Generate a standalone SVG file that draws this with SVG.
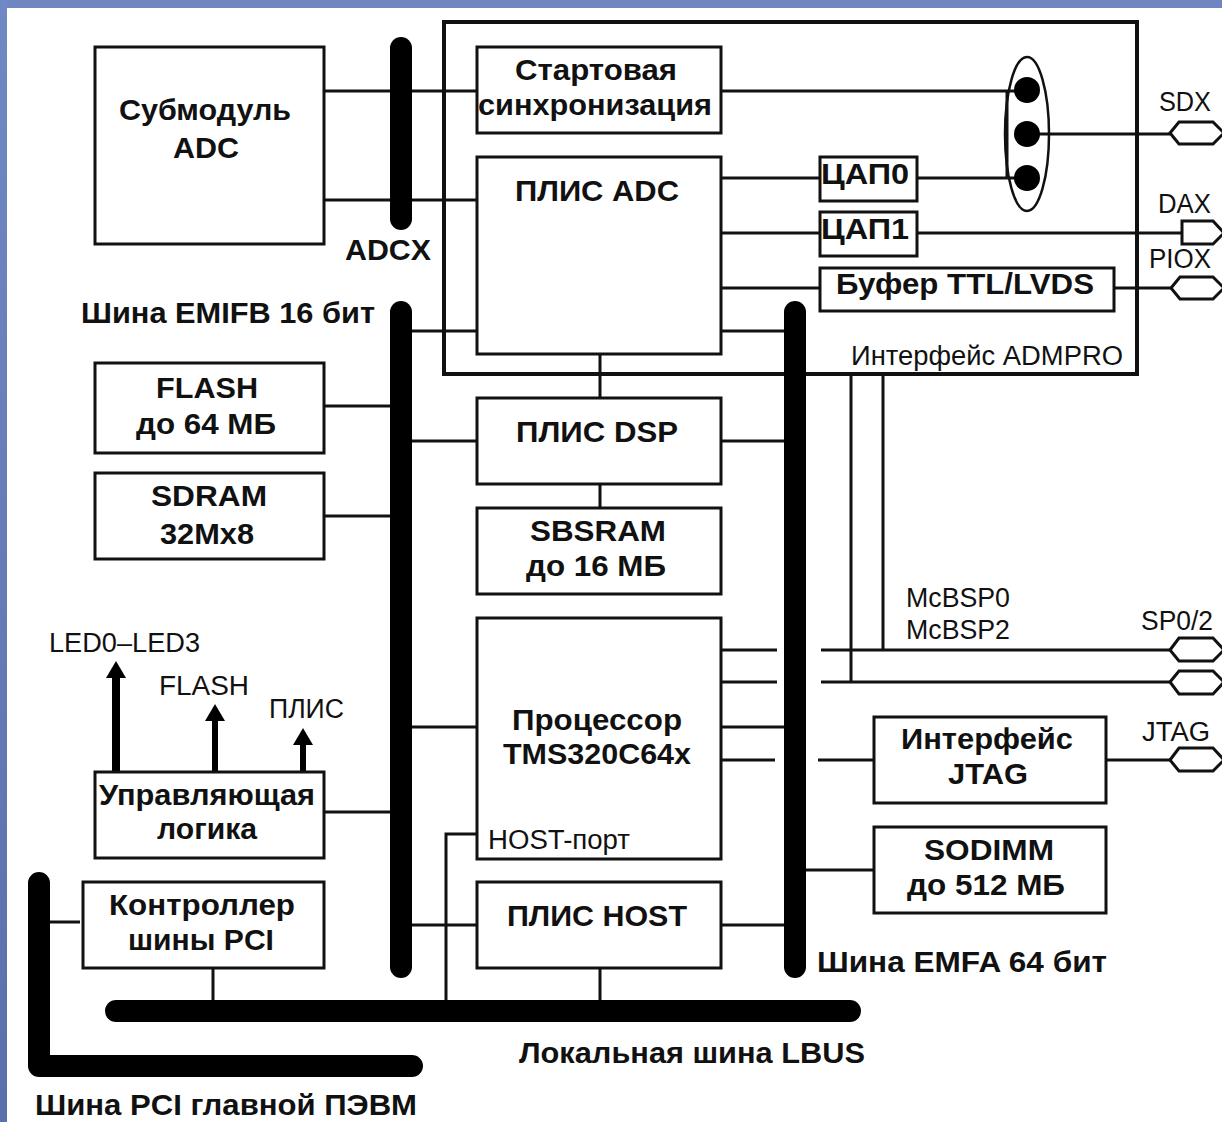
<svg xmlns="http://www.w3.org/2000/svg" width="1222" height="1122" viewBox="0 0 1222 1122">
<style>
text{font-family:"Liberation Sans",Arial,sans-serif;fill:#111}
.b{font-weight:bold;font-size:30px}
.r{font-size:27px}
.n{fill:#fff;stroke:#111;stroke-width:3}
.l{fill:none;stroke:#111;stroke-width:3}
.bus{fill:none;stroke:#000;stroke-width:22;stroke-linecap:round}
.a{fill:none;stroke:#000;stroke-width:6}
.p{fill:#fff;stroke:#111;stroke-width:3}
</style>
<defs>
<linearGradient id="bg" x1="0" y1="0" x2="0" y2="1"><stop offset="0" stop-color="#7088c4"/><stop offset="1" stop-color="#5a70ac"/></linearGradient>
<marker id="ah" viewBox="0 0 17 20" refX="1" refY="10" markerUnits="userSpaceOnUse" markerWidth="17" markerHeight="20" orient="auto"><path d="M0 0L17 10L0 20Z" fill="#000"/></marker>
</defs>
<rect width="1222" height="1122" fill="#fff"/>
<rect width="1222" height="8" fill="#6f86c0"/>
<rect width="7" height="1122" fill="url(#bg)"/>
<g id="outer"><rect x="444" y="22" width="693" height="352" fill="none" stroke="#111" stroke-width="4"/></g>
<g id="connectors">
<path class="l" d="M324 91H477M324 200H477M721 91H1027M721 178H820M917 178H1027M721 233H820M917 233H1182M721 288H820M1114 288H1171M1007 91V178M1027 134H1170"/>
<path class="l" d="M412 331H477M721 331H784M324 406H390M412 441H477M721 441H784M324 516H390M412 727H477M721 727H784M324 812H390M412 925H477M721 925H784M600 354V398M600 484V508M600 968V1000M213 968V1000M50 922H80M446 1000V834H477"/>
<path class="l" d="M721 650H777M821 650H1170M721 682H777M821 682H1170M721 760H775M818 760H874M1106 760H1170M806 870H874M851 374V682M883 374V650"/>
<path class="bus" d="M401 48V219"/>
<path class="bus" d="M401 312V967"/>
<path class="bus" d="M795 312V967"/>
<path class="bus" d="M116 1011H850"/>
<path class="bus" stroke-linejoin="round" d="M39 883V1066H412"/>
<path class="a" style="stroke-width:8" marker-end="url(#ah)" d="M116 772V677"/>
<path class="a" marker-end="url(#ah)" d="M215 772V720"/>
<path class="a" marker-end="url(#ah)" d="M303 772V744"/>
</g>
<g id="adc-submodule"><rect class="n" x="95" y="47" width="229" height="197"/><text class="b" x="205" y="120" text-anchor="middle" textLength="172" lengthAdjust="spacingAndGlyphs">Субмодуль</text><text class="b" x="206" y="158" text-anchor="middle" textLength="66" lengthAdjust="spacingAndGlyphs">ADC</text></g>
<g id="start-sync"><rect class="n" x="477" y="47" width="244" height="86"/><text class="b" x="596" y="80" text-anchor="middle" textLength="162" lengthAdjust="spacingAndGlyphs">Стартовая</text><text class="b" x="595" y="115" text-anchor="middle" textLength="234" lengthAdjust="spacingAndGlyphs">синхронизация</text></g>
<g id="pld-adc"><rect class="n" x="477" y="157" width="244" height="197"/><text class="b" x="597" y="201" text-anchor="middle" textLength="164" lengthAdjust="spacingAndGlyphs">ПЛИС ADC</text></g>
<g id="dac0"><rect class="n" x="820" y="157" width="97" height="44"/><text class="b" x="865" y="184" text-anchor="middle" textLength="88" lengthAdjust="spacingAndGlyphs">ЦАП0</text></g>
<g id="dac1"><rect class="n" x="820" y="212" width="97" height="44"/><text class="b" x="865" y="239" text-anchor="middle" textLength="88" lengthAdjust="spacingAndGlyphs">ЦАП1</text></g>
<g id="buffer"><rect class="n" x="820" y="268" width="294" height="43"/><text class="b" x="965" y="294" text-anchor="middle" textLength="258" lengthAdjust="spacingAndGlyphs">Буфер TTL/LVDS</text></g>
<g id="switch"><ellipse cx="1027" cy="134" rx="22" ry="77" fill="none" stroke="#111" stroke-width="2.5"/><circle cx="1027" cy="90" r="13" fill="#000"/><circle cx="1027" cy="134" r="13" fill="#000"/><circle cx="1027" cy="178" r="13" fill="#000"/></g>
<g id="flash"><rect class="n" x="95" y="363" width="229" height="90"/><text class="b" x="207" y="398" text-anchor="middle" textLength="102" lengthAdjust="spacingAndGlyphs">FLASH</text><text class="b" x="206" y="434" text-anchor="middle" textLength="140" lengthAdjust="spacingAndGlyphs">до 64 МБ</text></g>
<g id="sdram"><rect class="n" x="95" y="473" width="229" height="86"/><text class="b" x="209" y="506" text-anchor="middle" textLength="116" lengthAdjust="spacingAndGlyphs">SDRAM</text><text class="b" x="207" y="544" text-anchor="middle" textLength="94" lengthAdjust="spacingAndGlyphs">32Мх8</text></g>
<g id="pld-dsp"><rect class="n" x="477" y="398" width="244" height="86"/><text class="b" x="597" y="442" text-anchor="middle" textLength="162" lengthAdjust="spacingAndGlyphs">ПЛИС DSP</text></g>
<g id="sbsram"><rect class="n" x="477" y="508" width="244" height="86"/><text class="b" x="598" y="541" text-anchor="middle" textLength="136" lengthAdjust="spacingAndGlyphs">SBSRAM</text><text class="b" x="596" y="576" text-anchor="middle" textLength="140" lengthAdjust="spacingAndGlyphs">до 16 МБ</text></g>
<g id="cpu"><rect class="n" x="477" y="618" width="244" height="241"/><text class="b" x="597" y="730" text-anchor="middle" textLength="170" lengthAdjust="spacingAndGlyphs">Процессор</text><text class="b" x="597" y="764" text-anchor="middle" textLength="188" lengthAdjust="spacingAndGlyphs">TMS320C64x</text><text class="r" x="488" y="849" textLength="142" lengthAdjust="spacingAndGlyphs">HOST-порт</text></g>
<g id="control-logic"><rect class="n" x="95" y="772" width="229" height="86"/><text class="b" x="207" y="805" text-anchor="middle" textLength="216" lengthAdjust="spacingAndGlyphs">Управляющая</text><text class="b" x="207" y="839" text-anchor="middle" textLength="100" lengthAdjust="spacingAndGlyphs">логика</text></g>
<g id="pci-controller"><rect class="n" x="83" y="882" width="241" height="86"/><text class="b" x="202" y="915" text-anchor="middle" textLength="186" lengthAdjust="spacingAndGlyphs">Контроллер</text><text class="b" x="201" y="950" text-anchor="middle" textLength="146" lengthAdjust="spacingAndGlyphs">шины PCI</text></g>
<g id="pld-host"><rect class="n" x="477" y="882" width="244" height="86"/><text class="b" x="597" y="926" text-anchor="middle" textLength="180" lengthAdjust="spacingAndGlyphs">ПЛИС HOST</text></g>
<g id="jtag-interface"><rect class="n" x="874" y="717" width="232" height="86"/><text class="b" x="987" y="749" text-anchor="middle" textLength="172" lengthAdjust="spacingAndGlyphs">Интерфейс</text><text class="b" x="988" y="784" text-anchor="middle" textLength="80" lengthAdjust="spacingAndGlyphs">JTAG</text></g>
<g id="sodimm"><rect class="n" x="874" y="827" width="232" height="86"/><text class="b" x="989" y="860" text-anchor="middle" textLength="130" lengthAdjust="spacingAndGlyphs">SODIMM</text><text class="b" x="986" y="895" text-anchor="middle" textLength="158" lengthAdjust="spacingAndGlyphs">до 512 МБ</text></g>
<g id="ports">
<path class="p" d="M1170 133L1179 122H1213L1224 133L1213 144H1179Z"/>
<path class="p" d="M1182 221H1213L1224 233L1213 244H1182Z"/>
<path class="p" d="M1171 288L1180 277H1213L1224 288L1213 299H1180Z"/>
<path class="p" d="M1170 650L1179 638H1213L1224 650L1213 661H1179Z"/>
<path class="p" d="M1170 682L1179 671H1213L1224 682L1213 694H1179Z"/>
<path class="p" d="M1170 760L1179 748H1213L1224 760L1213 771H1179Z"/>
</g>
<g id="labels">
<text class="b" x="345" y="260" textLength="86" lengthAdjust="spacingAndGlyphs">ADCX</text>
<text class="b" x="81" y="323" textLength="294" lengthAdjust="spacingAndGlyphs">Шина EMIFB 16 бит</text>
<text class="b" x="817" y="972" textLength="290" lengthAdjust="spacingAndGlyphs">Шина EMFA 64 бит</text>
<text class="b" x="519" y="1063" textLength="346" lengthAdjust="spacingAndGlyphs">Локальная шина LBUS</text>
<text class="b" x="35" y="1115" textLength="382" lengthAdjust="spacingAndGlyphs">Шина PCI главной ПЭВМ</text>
<text class="r" x="851" y="365" textLength="272" lengthAdjust="spacingAndGlyphs">Интерфейс ADMPRO</text>
<text class="r" x="1159" y="111" textLength="52" lengthAdjust="spacingAndGlyphs">SDX</text>
<text class="r" x="1158" y="213" textLength="53" lengthAdjust="spacingAndGlyphs">DAX</text>
<text class="r" x="1149" y="268" textLength="62" lengthAdjust="spacingAndGlyphs">PIOX</text>
<text class="r" x="906" y="607" textLength="104" lengthAdjust="spacingAndGlyphs">McBSP0</text>
<text class="r" x="906" y="639" textLength="104" lengthAdjust="spacingAndGlyphs">McBSP2</text>
<text class="r" x="1141" y="630" textLength="72" lengthAdjust="spacingAndGlyphs">SP0/2</text>
<text class="r" x="1142" y="741" textLength="68" lengthAdjust="spacingAndGlyphs">JTAG</text>
<text class="r" x="49" y="652" textLength="151" lengthAdjust="spacingAndGlyphs">LED0–LED3</text>
<text class="r" x="159" y="695" textLength="90" lengthAdjust="spacingAndGlyphs">FLASH</text>
<text class="r" x="269" y="718" textLength="75" lengthAdjust="spacingAndGlyphs">ПЛИС</text>
</g>
</svg>
